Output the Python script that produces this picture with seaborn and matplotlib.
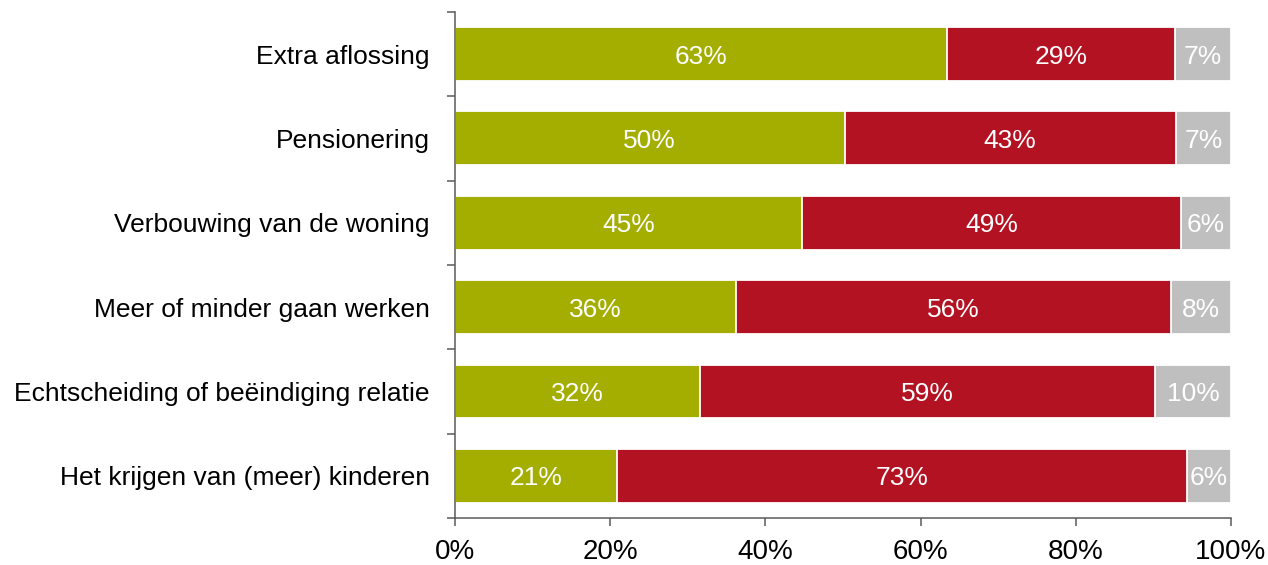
import matplotlib
matplotlib.use("Agg")
import matplotlib.pyplot as plt
import numpy as np
import pandas as pd
import seaborn as sns
from matplotlib.ticker import FixedLocator

# Share of respondents per life event (percent)
categories = [
    "Extra aflossing",
    "Pensionering",
    "Verbouwing van de woning",
    "Meer of minder gaan werken",
    "Echtscheiding of beëindiging relatie",
    "Het krijgen van (meer) kinderen",
]
ja = [63.4, 50.2, 44.7, 36.2, 31.6, 20.9]
nee = [29.4, 42.7, 48.9, 56.1, 58.6, 73.4]
weet_niet = [7.2, 7.1, 6.4, 7.7, 9.8, 5.7]
x_ticks = [0, 20, 40, 60, 80, 100]

series = [("Ja", ja, "#A3AE00"), ("Nee", nee, "#B31222"), ("Weet niet", weet_niet, "#BFBFBF")]

sns.set_theme(style="white")
plt.rcParams["font.family"] = ["Liberation Sans", "DejaVu Sans"]
axis_color = "#5A5A5A"

fig = plt.figure(figsize=(12.68, 5.65), dpi=100)
ax = fig.add_axes([0.3588, 0.0832, 0.9708 - 0.3588, 0.9788 - 0.0832])

# Stacked bars: draw cumulative totals from the outermost segment inward
values = np.array([s[1] for s in series])
cum = np.cumsum(values, axis=0)
starts = cum - values
for i in reversed(range(len(series))):
    name, _, color = series[i]
    df = pd.DataFrame({"categorie": categories, "waarde": cum[i]})
    sns.barplot(data=df, x="waarde", y="categorie", order=categories, orient="h",
                color=color, saturation=1, width=0.64, errorbar=None,
                edgecolor="white", linewidth=1.3, ax=ax)

# Value labels centred in each segment
for i, (name, vals, color) in enumerate(series):
    for j, v in enumerate(vals):
        ax.text(starts[i][j] + v / 2, j, f"{round(v):.0f}%", ha="center",
                va="center_baseline", color="white", fontsize=19)

ax.set_xlim(0, 100)
ax.set_ylim(5.5, -0.5)
ax.set_xlabel("")
ax.set_ylabel("")
ax.xaxis.set_major_locator(FixedLocator(x_ticks))
ax.set_xticklabels([f"{t}%" for t in x_ticks])
ax.yaxis.set_minor_locator(FixedLocator(np.arange(-0.5, 6.0, 1.0)))

for side in ["top", "right"]:
    ax.spines[side].set_visible(False)
for side in ["left", "bottom"]:
    ax.spines[side].set_color(axis_color)
    ax.spines[side].set_linewidth(1.1)

ax.tick_params(axis="x", which="major", direction="out", length=6, width=1.1,
               color=axis_color, labelsize=20, labelcolor="black", pad=9, bottom=True)
ax.tick_params(axis="y", which="major", length=0, labelsize=19, labelcolor="black", pad=18)
ax.tick_params(axis="y", which="minor", direction="out", length=6, width=1.1,
               color=axis_color, left=True)
ax.grid(False)

fig.savefig("out.png", dpi=100)
